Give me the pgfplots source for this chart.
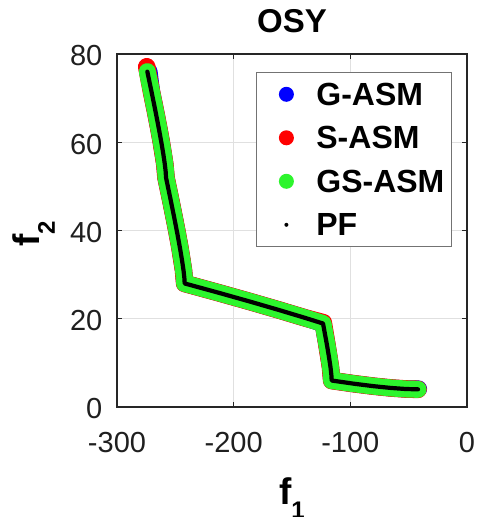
\documentclass[border=0pt]{standalone}
\usepackage{pgfplots}
\pgfplotsset{compat=1.18}
\usepackage{fontspec}
\setmainfont{Liberation Sans}
\definecolor{mgreen}{RGB}{45,245,45}
\definecolor{axgray}{RGB}{38,38,38}
\pgfplotstableread{
x y
-274 76
-270.25 71.25
-267 67
-264.25 63.25
-262 60
-260.25 57.25
-259 55
-258.25 53.25
-258 52
-254.25 47.25
-251 43
-248.25 39.25
-246 36
-244.25 33.25
-243 31
-242.25 29.25
-242 28
-213.14 25.91
-186.28 23.91
-161.44 22.0
-138.60 20.18
-123.41 18.92
-122.25 17.25
-120 14
-118.25 11.25
-117 9
-116.25 7.25
-116 6
-97.04 5.28
-80.16 4.72
-65.36 4.32
-52.64 4.08
-42 4
}\pfdata
\pgfplotstableread{
x y
-272.5 76
-270.25 71.25
-267 67
-264.25 63.25
-262 60
-259 55
-258 52
-254.25 47.25
-251 43
-248.25 39.25
-246 36
-243 31
-242 28
-213.14 25.91
-186.28 23.91
-161.44 22.0
-138.60 20.18
-123.41 18.92
-120 14
-117 9
-116 6
-97.04 5.28
-80.16 4.72
-65.36 4.32
-52.64 4.08
-41.5 4.1
}\gdata
\pgfplotstableread{
x y
-274.5 77.1
-270.5 71.5
-267 67
-264.25 63.25
-262 60
-259 55
-258 52
-254.25 47.25
-251 43
-248.25 39.25
-246 36
-243 31
-242 28
-213.14 25.91
-186.28 23.91
-161.44 22.0
-138.60 20.18
-123.2 19.1
-120 14
-117 9
-116 6
-97.04 5.28
-80.16 4.72
-65.36 4.32
-52.64 4.08
-42 4
}\sdata
\begin{document}
\begin{tikzpicture}
\begin{axis}[name=ax, scale only axis, width=350pt, height=353pt,
 xmin=-300, xmax=0, ymin=0, ymax=80,
 xtick={-300,-200,-100,0}, ytick={0,20,40,60,80},
 grid=major, major grid style={line width=0.8pt, color=black!12},
 axis line style={line width=1.1pt, color=axgray},
 tick style={line width=1.1pt, color=axgray},
 major tick length=5pt, tick align=inside,
 /pgf/number format/assume math mode=true,
 ticklabel style={font=\fontsize{29}{29}\selectfont, text=black!88},
 xticklabel style={anchor=north, inner sep=0pt, yshift=-25pt},
 yticklabel style={anchor=east, inner sep=0pt, xshift=-14.5pt, yshift=-2pt},
 title={OSY},
 title style={font=\bfseries\fontsize{33}{33}\selectfont, at={(axis description cs:0.5,1.045)}, anchor=base, inner sep=0pt},
 xlabel={f\raisebox{-14pt}{\fontsize{24}{24}\selectfont 1}},
 ylabel={f\raisebox{-15pt}{\fontsize{24}{24}\selectfont 2}},
 every axis x label/.style={at={(axis description cs:0.5,-0.2776)}, anchor=base, inner sep=0pt, font=\bfseries\fontsize{37}{37}\selectfont},
 every axis y label/.style={at={(axis description cs:-0.22,0.49)}, anchor=base, rotate=90, inner sep=0pt, font=\bfseries\fontsize{37}{37}\selectfont},
 legend style={at={(0.957,0.949)}, anchor=north east, draw=black!55, line width=1.1pt, fill=white,
   inner xsep=7pt, inner ysep=0pt, row sep=0pt, column sep=0pt,
   font=\bfseries\fontsize{32}{32}\selectfont, cells={anchor=west},
   nodes={inner xsep=0pt, inner ysep=11pt, text height=21.5pt, text depth=0pt}},
]
\addplot[blue, line width=17pt, line cap=round, line join=round,
  legend image code/.code={\path[draw=none,fill=none] (-23pt,-21.5pt) rectangle (30pt,21.5pt); \path[draw=none,fill=blue] (0pt,0pt) circle (7.5pt);}]
  table[x=x,y=y] {\gdata};
\addplot[red, line width=17.6pt, line cap=round, line join=round,
  legend image code/.code={\path[draw=none,fill=none] (-23pt,-21.5pt) rectangle (30pt,21.5pt); \path[draw=none,fill=red] (0pt,0pt) circle (7.5pt);}]
  table[x=x,y=y] {\sdata};
\addplot[mgreen, line width=17pt, line cap=round, line join=round,
  legend image code/.code={\path[draw=none,fill=none] (-23pt,-21.5pt) rectangle (30pt,21.5pt); \path[draw=none,fill=mgreen] (0pt,0pt) circle (7.5pt);}]
  table[x=x,y=y] {\pfdata};
\addplot[black, line width=4.2pt, line cap=round, line join=round,
  legend image code/.code={\path[draw=none,fill=none] (-23pt,-21.5pt) rectangle (30pt,21.5pt); \path[draw=none,fill=black] (0pt,0pt) circle (2pt);}]
  table[x=x,y=y] {\pfdata};
\legend{G-ASM,S-ASM,GS-ASM,PF}
\end{axis}
\pgfresetboundingbox
\path ([shift={(-117pt,-110pt)}]ax.south west) rectangle ([shift={(14pt,54pt)}]ax.north east);
\end{tikzpicture}
\end{document}
